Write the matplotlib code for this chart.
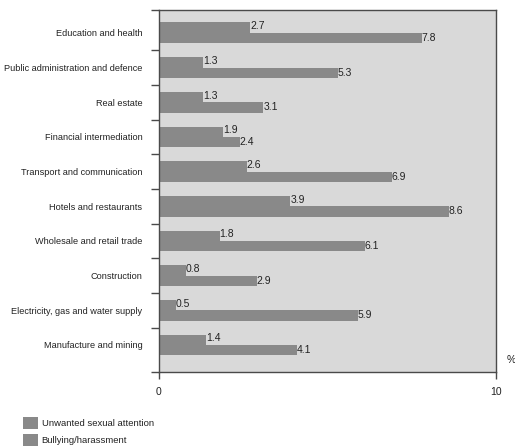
import matplotlib
matplotlib.use("Agg")
import matplotlib.pyplot as plt
import numpy as np
from matplotlib.patches import Patch

plt.rcParams['font.family'] = ['Liberation Sans', 'DejaVu Sans']

categories = [
    "Education and health",
    "Public administration and defence",
    "Real estate",
    "Financial intermediation",
    "Transport and communication",
    "Hotels and restaurants",
    "Wholesale and retail trade",
    "Construction",
    "Electricity, gas and water supply",
    "Manufacture and mining",
]
unwanted_attention = [2.7, 1.3, 1.3, 1.9, 2.6, 3.9, 1.8, 0.8, 0.5, 1.4]
bullying = [7.8, 5.3, 3.1, 2.4, 6.9, 8.6, 6.1, 2.9, 5.9, 4.1]
series_names = ["Unwanted sexual attention", "Bullying/harassment"]
x_ticks = [0, 10]

bar_color = "#898989"
bg_color = "#d9d9d9"
frame_color = "#4a4a4a"
text_color = "#222222"

fig = plt.figure(figsize=(5.15, 4.48), dpi=100)
ax = fig.add_axes([159 / 515, 76 / 448, 337 / 515, 362 / 448])
ax.set_facecolor(bg_color)

y = np.arange(len(categories))
h = 0.3
ax.barh(y - h / 2, unwanted_attention, height=h, color=bar_color, edgecolor="none")
ax.barh(y + h / 2, bullying, height=h, color=bar_color, edgecolor="none")

for yi, v in zip(y, unwanted_attention):
    ax.text(v, yi - h / 2 - 0.04, f"{v:.1f}", ha="left", va="center", fontsize=7.5, color=text_color)
for yi, v in zip(y, bullying):
    ax.text(v, yi + h / 2, f"{v:.1f}", ha="left", va="center", fontsize=7.5, color=text_color)

top_lim, bottom_lim = -0.66, len(categories) - 1 + 0.78
ax.set_ylim(bottom_lim, top_lim)
ax.set_xlim(0, 10)

ax.set_yticks(y)
ax.set_yticklabels(categories, fontsize=6.6, color=text_color)
ax.tick_params(axis="y", which="major", length=0, pad=12)
boundaries = [top_lim] + [i + 0.5 for i in range(len(categories) - 1)] + [bottom_lim]
ax.set_yticks(boundaries, minor=True)
ax.tick_params(axis="y", which="minor", length=6, width=1, color=frame_color, direction="out")

ax.set_xticks(x_ticks)
ax.set_xticklabels([str(t) for t in x_ticks], fontsize=7.5, color=text_color)
ax.tick_params(axis="x", length=5, width=1, color=frame_color, direction="out", pad=6)

for s in ax.spines.values():
    s.set_color(frame_color)
    s.set_linewidth(1)

fig.text(507 / 515, 1 - 360 / 448, "%", fontsize=7.5, ha="left", va="center", color=text_color)

handles = [Patch(facecolor=bar_color, edgecolor="none") for _ in series_names]
fig.legend(handles, series_names, loc="upper left",
           bbox_to_anchor=(19 / 515, 1 - 413 / 448), frameon=False,
           fontsize=6.8, handlelength=1.6, handleheight=1.6,
           handletextpad=0.4, labelspacing=0.55, borderaxespad=0,
           labelcolor=text_color)

fig.savefig("out.png", dpi=100, facecolor="white")
